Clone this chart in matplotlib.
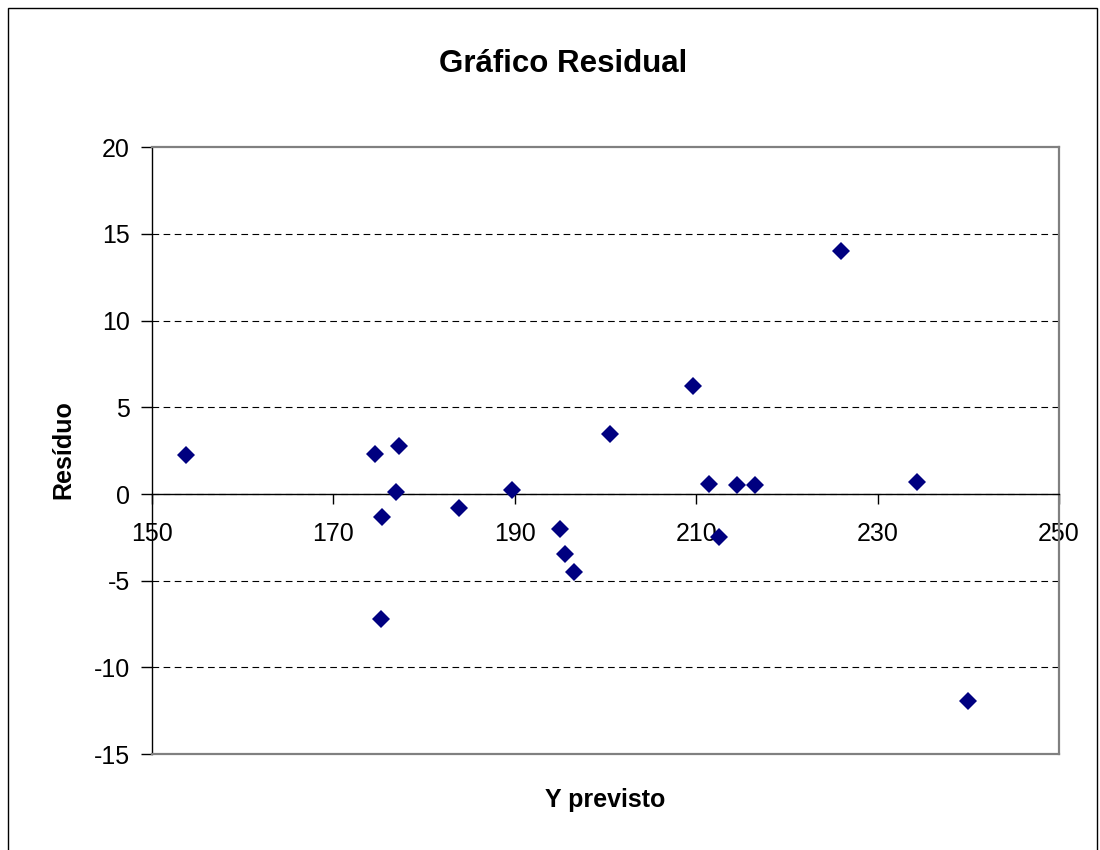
import matplotlib
matplotlib.use("Agg")
import matplotlib.pyplot as plt
from matplotlib.patches import Rectangle

plt.rcParams["font.family"] = ["Liberation Sans", "DejaVu Sans"]
plt.rcParams["axes.unicode_minus"] = False

# ── data ─────────────────────────────────────────────────────────────────────
y_previsto = [153.7, 174.6, 175.2, 175.4, 176.9, 177.2, 183.8, 189.7, 195.0,
              195.5, 196.5, 200.5, 209.7, 211.4, 212.5, 214.5, 216.5, 226.0,
              234.3, 240.0]
residuo = [2.25, 2.31, -7.21, -1.34, 0.12, 2.75, -0.83, 0.25, -2.02,
           -3.46, -4.52, 3.48, 6.25, 0.59, -2.47, 0.52, 0.52, 14.0,
           0.71, -11.96]

x_ticks = [150, 170, 190, 210, 230, 250]
y_ticks = [-15, -10, -5, 0, 5, 10, 15, 20]

# ── figure ───────────────────────────────────────────────────────────────────
fig = plt.figure(figsize=(11, 8.5), dpi=100)
ax = fig.add_axes([0.1382, 0.1129, 0.8245, 0.7138])

ax.plot(y_previsto, residuo, linestyle="none", marker="D", markersize=9,
        color="#000080", markeredgewidth=0, zorder=5)

ax.set_xlim(x_ticks[0], x_ticks[-1])
ax.set_ylim(y_ticks[0], y_ticks[-1])
ax.set_xticks(x_ticks)
ax.set_yticks(y_ticks)

# x axis crosses at zero, Excel style
ax.spines["bottom"].set_position(("data", 0))
ax.spines["bottom"].set_color("black")
ax.spines["bottom"].set_linewidth(1)
ax.spines["left"].set_color("black")
ax.spines["left"].set_linewidth(1)
for side in ["top", "right"]:
    ax.spines[side].set_color("#808080")
    ax.spines[side].set_linewidth(1.6)
ax.plot([0, 1], [0, 0], transform=ax.transAxes, color="#808080", lw=1.6,
        clip_on=False, zorder=4)

ax.tick_params(axis="x", direction="out", length=7, width=1, pad=13,
               labelsize=18)
ax.tick_params(axis="y", direction="out", length=8, width=1, pad=8,
               labelsize=18)

# dashed gridlines, hidden at the frame edges
ax.yaxis.grid(True, color="black", linestyle=(0, (6, 4)), linewidth=0.8)
ax.set_axisbelow(True)
gl = ax.get_ygridlines()
gl[0].set_visible(False)
gl[-1].set_visible(False)

# ── texts ────────────────────────────────────────────────────────────────────
fig.text(0.512, 0.9153, "Gráfico Residual", ha="center", va="baseline",
         fontsize=22.5, fontweight="bold")
fig.text(0.55, 0.0506, "Y previsto", ha="center", va="baseline",
         fontsize=18, fontweight="bold")
fig.text(0.058, 0.4706, "Resíduo", ha="center", va="center", rotation=90,
         fontsize=18, fontweight="bold")

# chart-area border
fig.patches.append(Rectangle((0.0073, -0.05), 0.99, 1.0406,
                             transform=fig.transFigure, fill=False,
                             edgecolor="black", linewidth=1))

plt.savefig("out.png", dpi=100)
